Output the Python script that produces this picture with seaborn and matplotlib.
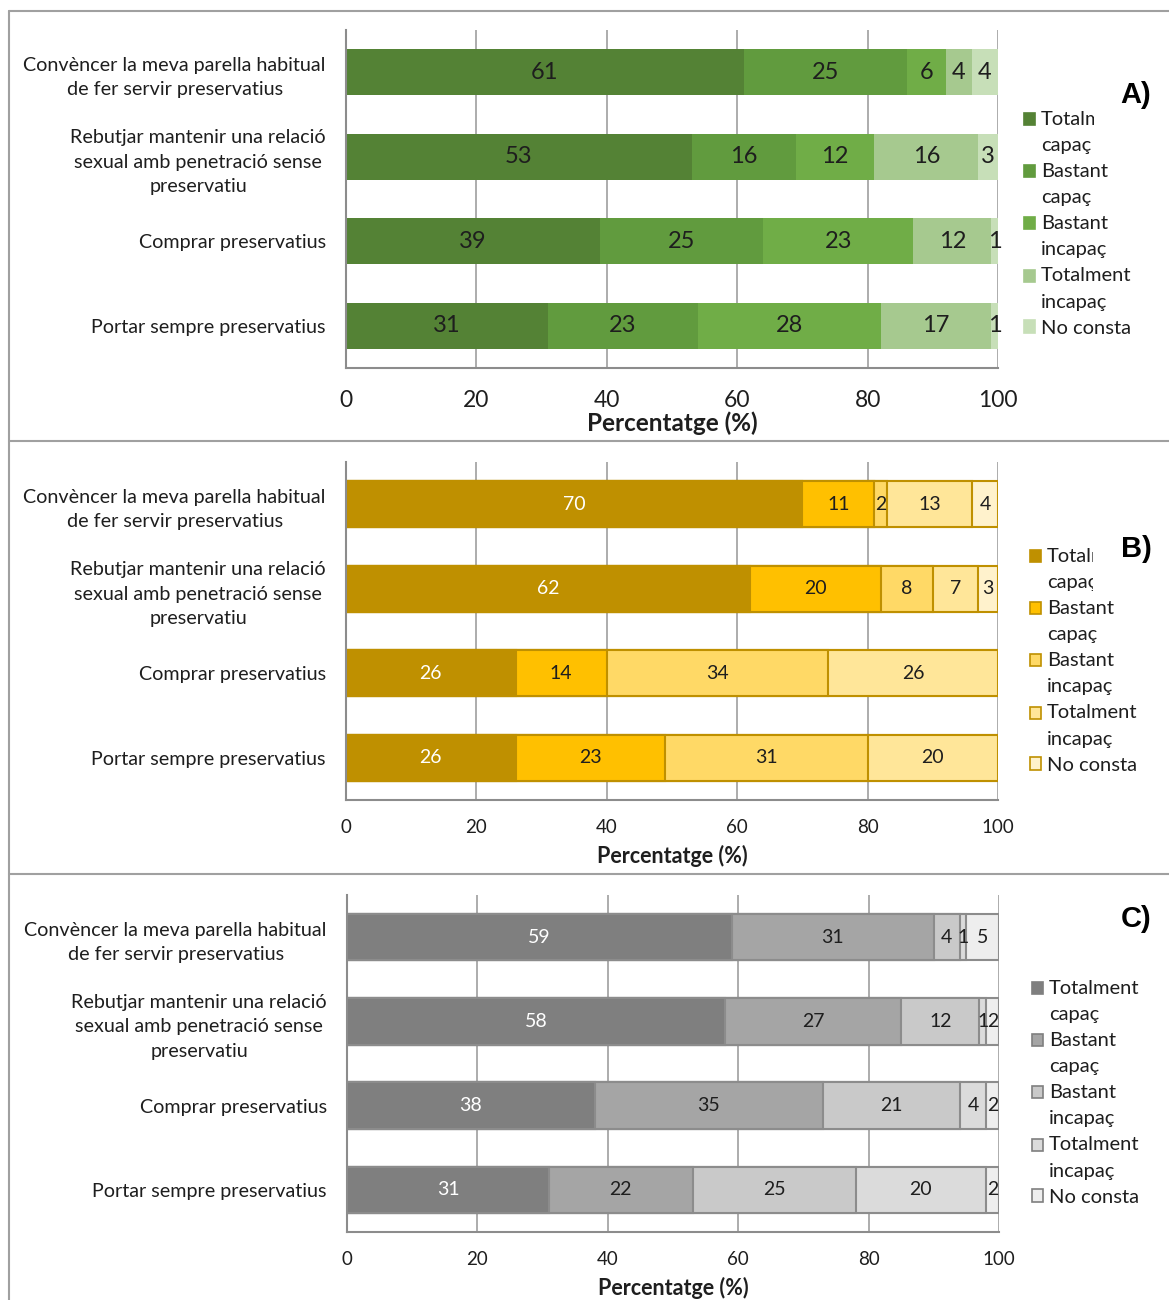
import matplotlib
matplotlib.use("Agg")
import matplotlib.pyplot as plt
import pandas as pd
import seaborn as sns
from matplotlib.lines import Line2D
from matplotlib.patches import Patch, Rectangle
from matplotlib.legend_handler import HandlerPatch
from matplotlib.transforms import Bbox, TransformedBbox

sns.set_theme(style="white")
plt.rcParams["font.family"] = ["Lato", "DejaVu Sans"]

W, H = 1169, 1300

ITEMS = [
    "Convèncer la meva parella habitual\nde fer servir preservatius",
    "Rebutjar mantenir una relació\nsexual amb penetració sense\npreservatiu",
    "Comprar preservatius",
    "Portar sempre preservatius",
]
LEVELS = ["Totalment capaç", "Bastant capaç", "Bastant incapaç",
          "Totalment incapaç", "No consta"]
LEGEND_LABELS = ["Totalment\ncapaç", "Bastant\ncapaç", "Bastant\nincapaç",
                 "Totalment\nincapaç", "No consta"]

# panel A
A_TOT_CAPAC = [61, 53, 39, 31]
A_BAS_CAPAC = [25, 16, 25, 23]
A_BAS_INCAPAC = [6, 12, 23, 28]
A_TOT_INCAPAC = [4, 16, 12, 17]
A_NO_CONSTA = [4, 3, 1, 1]

# panel B
B_TOT_CAPAC = [70, 62, 26, 26]
B_BAS_CAPAC = [11, 20, 14, 23]
B_BAS_INCAPAC = [2, 8, 34, 31]
B_TOT_INCAPAC = [13, 7, 26, 20]
B_NO_CONSTA = [4, 3, 0, 0]

# panel C
C_TOT_CAPAC = [59, 58, 38, 31]
C_BAS_CAPAC = [31, 27, 35, 22]
C_BAS_INCAPAC = [4, 12, 21, 25]
C_TOT_INCAPAC = [1, 1, 4, 20]
C_NO_CONSTA = [5, 2, 2, 2]

GREENS = ["#548235", "#619b3e", "#70ad47", "#a6c98f", "#c7dfb8"]
GOLDS = ["#bf9000", "#ffc000", "#ffd966", "#ffe699", "#fff2cc"]
GREYS = ["#7f7f7f", "#a5a5a5", "#c9c9c9", "#dbdbdb", "#eeeeee"]

AXIS_GREY = "#8c8c8c"
TEXT = "#1e1e1e"


def px_axes(fig, left, top, right, bottom):
    return fig.add_axes([left / W, 1 - bottom / H, (right - left) / W, (bottom - top) / H])


def draw_panel(ax, values, colors, edge, lw, val_size, tick_size, lab_size,
               first_white, tick_pad, lab_y):
    df = pd.DataFrame(dict(zip(LEVELS, values)), index=ITEMS)
    cum = df.cumsum(axis=1)
    # stacked bars: draw the running totals from longest to shortest
    for level, color in reversed(list(zip(LEVELS, colors))):
        sns.barplot(x=cum[level].values, y=ITEMS, orient="h", color=color,
                    saturation=1, width=0.55, edgecolor=edge if edge else color,
                    linewidth=lw, ax=ax)
    for i, item in enumerate(ITEMS):
        for j, level in enumerate(LEVELS):
            v = df.loc[item, level]
            if v <= 0:
                continue
            c = "white" if (first_white and j == 0) else TEXT
            ax.text(cum.loc[item, level] - v / 2, i, str(v), ha="center",
                    va="center", fontsize=val_size, color=c)

    ax.set_xlim(0, 100)
    ax.set_ylim(3.5, -0.5)
    ax.set_xticks(range(0, 101, 20))
    ax.set_yticks(range(len(ITEMS)))
    ax.set_yticklabels(ITEMS, multialignment="center", ha="right",
                       linespacing=1.55)
    ax.set_yticks([k - 0.5 for k in range(len(ITEMS) + 1)], minor=True)
    ax.tick_params(axis="y", which="major", length=0, pad=14.5,
                   labelsize=14.2, labelcolor=TEXT)
    ax.tick_params(axis="y", which="minor", length=6, width=1.3,
                   color=AXIS_GREY, direction="out")
    ax.tick_params(axis="x", which="major", length=6, width=1.3,
                   color=AXIS_GREY, direction="out", labelsize=tick_size,
                   pad=tick_pad, labelcolor=TEXT)
    ax.xaxis.grid(True, color="#a6a6a6", linewidth=1.3)
    ax.set_axisbelow(True)
    for s in ["top", "right"]:
        ax.spines[s].set_visible(False)
    for s in ["left", "bottom"]:
        ax.spines[s].set_color(AXIS_GREY)
        ax.spines[s].set_linewidth(1.5)
    ax.set_ylabel("")
    ax.set_xlabel("Percentatge (%)", fontsize=lab_size, fontweight="bold",
                  color=TEXT)
    ax.xaxis.set_label_coords(0.5, lab_y)
    ax.xaxis.label.set_va("center")


def raised(shift):
    def make(legend, orig_handle, xdescent, ydescent, width, height, fontsize):
        return Rectangle((-xdescent, -ydescent + shift), width, height)
    return make


fig = plt.figure(figsize=(W / 100, H / 100), dpi=100)

ax_a = px_axes(fig, 346, 30, 998, 368)
draw_panel(ax_a, [A_TOT_CAPAC, A_BAS_CAPAC, A_BAS_INCAPAC, A_TOT_INCAPAC, A_NO_CONSTA],
           GREENS, None, 0, 17, 16.5, 17.5, False, 10, -0.163)

ax_b = px_axes(fig, 346, 462, 998, 800)
draw_panel(ax_b, [B_TOT_CAPAC, B_BAS_CAPAC, B_BAS_INCAPAC, B_TOT_INCAPAC, B_NO_CONSTA],
           GOLDS, "#bf9000", 1.5, 14, 13.5, 15.5, True, 8, -0.165)

ax_c = px_axes(fig, 347, 895, 999, 1232)
draw_panel(ax_c, [C_TOT_CAPAC, C_BAS_CAPAC, C_BAS_INCAPAC, C_TOT_INCAPAC, C_NO_CONSTA],
           GREYS, "#8c8c8c", 1.5, 14, 13.5, 15.5, True, 8, -0.165)

# legends (marker sits on the first line of each wrapped label)
LEG_SIZE = 14.5
for colors, edge, x, y, clip_x in [(GREENS, None, 1024, 111, 1094),
                                   (GOLDS, "#bf9000", 1030, 548, 1093),
                                   (GREYS, "#7f7f7f", 1032, 980, None)]:
    handles = [Patch(facecolor=c, edgecolor=edge if edge else c, linewidth=1.2)
               for c in colors]
    hmap = {h: HandlerPatch(patch_func=raised(9.6 if "\n" in lab else 0))
            for h, lab in zip(handles, LEGEND_LABELS)}
    leg = fig.legend(handles, LEGEND_LABELS, loc="upper left",
                     bbox_to_anchor=(x / W, 1 - y / H), frameon=False,
                     fontsize=LEG_SIZE, handlelength=0.55, handleheight=0.55,
                     handletextpad=0.3, labelspacing=0.45, borderaxespad=0,
                     borderpad=0, handler_map=hmap)
    for t in leg.get_texts():
        t.set_linespacing(1.65)
        t.set_color(TEXT)
    if clip_x is not None:
        t0 = leg.get_texts()[0]
        t0.set_clip_on(True)
        t0.set_clip_box(TransformedBbox(Bbox.from_extents(0, 0, clip_x / W, 1),
                                        fig.transFigure))

# panel letters
for letter, y in [("A)", 95), ("B)", 549), ("C)", 919)]:
    fig.text(1136 / W, 1 - y / H, letter, ha="center", va="center",
             fontsize=21, fontweight="bold", family="Liberation Sans", color="black")

# panel frames
frame = dict(color="#a0a0a0", linewidth=1.5, transform=fig.transFigure)
for y in [11, 441, 874]:
    fig.add_artist(Line2D([9 / W, 1], [1 - y / H, 1 - y / H], **frame))
fig.add_artist(Line2D([9 / W, 9 / W], [1 - 11 / H, 0], **frame))

fig.savefig("out.png", dpi=100)
